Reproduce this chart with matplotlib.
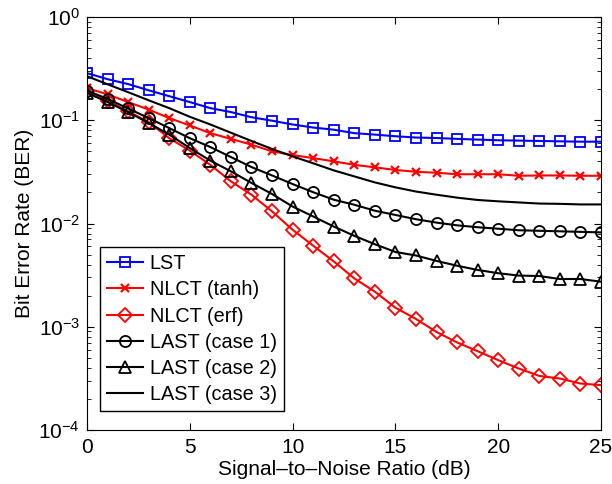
import matplotlib
matplotlib.use("Agg")
import matplotlib.pyplot as plt
import numpy as np

plt.rcParams['font.family'] = ['Liberation Sans', 'DejaVu Sans']

# SNR axis (dB)
snr = list(range(26))

# BER curves
ber_lst = [0.286, 0.25, 0.224, 0.195, 0.171, 0.15, 0.131, 0.12, 0.107, 0.099,
           0.091, 0.085, 0.081, 0.075, 0.0726, 0.070, 0.068, 0.0673, 0.066, 0.065,
           0.064, 0.0635, 0.063, 0.0625, 0.062, 0.062]
ber_tanh = [0.205, 0.178, 0.15, 0.127, 0.105, 0.089, 0.075, 0.066, 0.058, 0.050,
            0.046, 0.043, 0.040, 0.037, 0.035, 0.033, 0.0317, 0.031, 0.030, 0.030,
            0.030, 0.029, 0.0292, 0.0292, 0.029, 0.029]
ber_erf = [0.191, 0.155, 0.122, 0.096, 0.067, 0.0508, 0.037, 0.0256, 0.019, 0.0131,
           0.0087, 0.0061, 0.0043, 0.00294, 0.00219, 0.00153, 0.00119, 0.00089, 0.000705, 0.00058,
           0.000475, 0.000394, 0.000334, 0.000315, 0.000282, 0.000272]
ber_case1 = [0.194, 0.161, 0.130, 0.105, 0.084, 0.067, 0.055, 0.044, 0.0352, 0.0292,
             0.0241, 0.0201, 0.017, 0.0152, 0.0133, 0.0121, 0.011, 0.0102, 0.0096, 0.0092,
             0.0089, 0.0086, 0.0085, 0.0084, 0.0083, 0.0082]
ber_case2 = [0.184, 0.150, 0.120, 0.094, 0.0726, 0.0538, 0.0406, 0.032, 0.0247, 0.0193,
             0.0146, 0.0117, 0.00935, 0.0076, 0.0063, 0.0053, 0.0049, 0.00434, 0.0039, 0.00355,
             0.0033, 0.00313, 0.0031, 0.0029, 0.0029, 0.00273]
ber_case3 = [0.267, 0.223, 0.187, 0.156, 0.131, 0.108, 0.091, 0.0757, 0.063, 0.0527,
             0.0447, 0.0383, 0.0327, 0.0286, 0.025, 0.0224, 0.0204, 0.019, 0.0178, 0.0169,
             0.0164, 0.016, 0.0156, 0.0155, 0.0153, 0.0153]

fig = plt.figure(figsize=(6.12, 4.84), dpi=100)
ax = fig.add_axes([87/612, 1 - 430/484, (601 - 87)/612, (430 - 17)/484])

lw = 1.5
ax.semilogy(snr, ber_lst, color='#0000ff', marker='s', ms=7, mfc='none', mew=1.3, lw=lw, label='LST')
ax.semilogy(snr, ber_tanh, color='#ff0000', marker='x', ms=6, mew=1.6, lw=lw, label='NLCT (tanh)')
ax.semilogy(snr, ber_erf, color='#ff0000', marker='D', ms=7, mfc='none', mew=1.3, lw=lw, label='NLCT (erf)')
ax.semilogy(snr, ber_case1, color='black', marker='o', ms=8, mfc='none', mew=1.3, lw=lw, label='LAST (case 1)')
ax.semilogy(snr, ber_case2, color='black', marker='^', ms=8, mfc='none', mew=1.3, lw=lw, label='LAST (case 2)')
ax.semilogy(snr, ber_case3, color='black', lw=lw, label='LAST (case 3)')

ax.set_xlim(0, 25)
ax.set_ylim(1e-4, 1)
ax.set_xticks([0, 5, 10, 15, 20, 25])
ax.set_yticks([1e-4, 1e-3, 1e-2, 1e-1, 1])
ax.tick_params(which='both', direction='in', top=True, right=True, labelsize=15)
ax.tick_params(which='major', length=5)
ax.tick_params(which='minor', length=3)
ax.tick_params(axis='x', pad=6)
ax.tick_params(axis='y', pad=5)

ax.set_xlabel('Signal\u2013to\u2013Noise Ratio (dB)', fontsize=15, labelpad=2)
ax.set_ylabel('Bit Error Rate (BER)', fontsize=15, labelpad=3)

leg = ax.legend(loc='lower left', bbox_to_anchor=(0.025, 0.046), fontsize=14.3,
                fancybox=False, edgecolor='black', framealpha=1, handlelength=1.8,
                borderpad=0.35, labelspacing=0.36, handletextpad=0.36,
                borderaxespad=0)
leg.get_frame().set_linewidth(1.0)

fig.savefig('out.png', dpi=100)
